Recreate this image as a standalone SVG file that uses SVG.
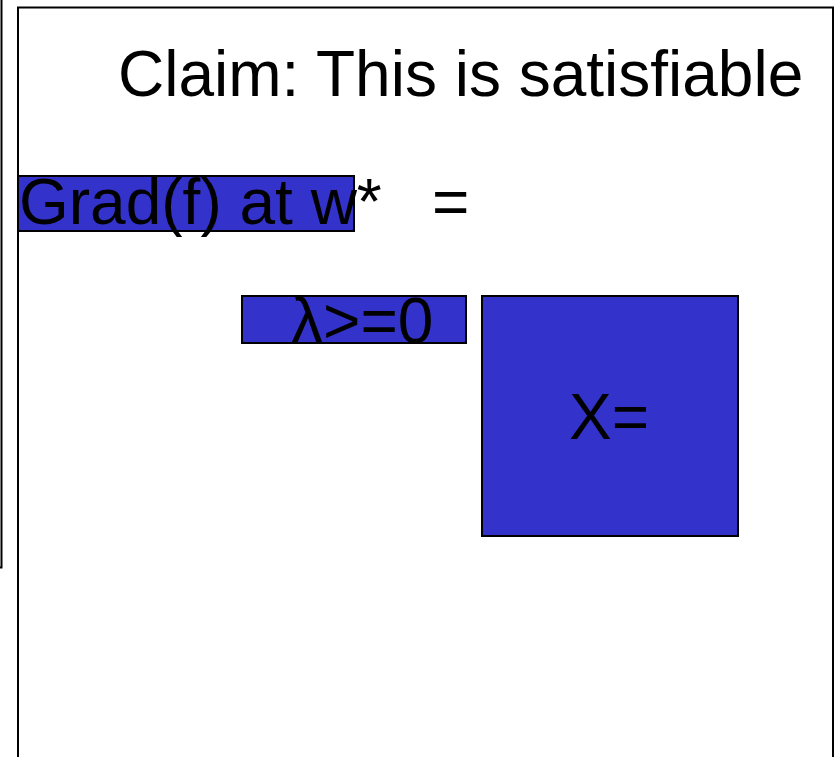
<svg xmlns="http://www.w3.org/2000/svg" width="836" height="757" viewBox="0 0 836 757">
<style>
.frame{fill:none;stroke:#000;stroke-width:2}
.box{fill:#3333CC;stroke:#000;stroke-width:2}
.t{font-family:"Liberation Sans",Arial,sans-serif;font-size:64px;fill:#000}
</style>
<rect width="836" height="757" fill="#fff"/>
<g id="left-frame"><path class="frame" d="M-2,-1 H1.5 V567.5 H-2"/></g>
<g id="main-frame"><path class="frame" d="M18,770 V7.5 H833 V770"/></g>
<g id="title"><text class="t" x="118" y="96">Claim: This is satisfiable</text></g>
<g id="grad">
<rect class="box" x="18" y="176" width="336" height="55"/>
<text class="t" x="19" y="224">Grad(f) at w*</text>
</g>
<g id="equals"><text class="t" x="432" y="224">=</text></g>
<g id="lambda">
<rect class="box" x="242" y="296" width="224" height="47"/>
<text class="t" x="291" y="343">λ&gt;=0</text>
</g>
<g id="X">
<rect class="box" x="482" y="296" width="256" height="240"/>
<text class="t" x="569" y="439">X=</text>
</g>
<g id="connectors"/>
</svg>
